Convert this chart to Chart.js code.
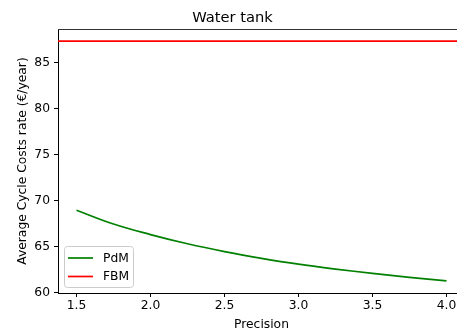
<!DOCTYPE html>
<html><head><meta charset="utf-8">
<script src="https://cdn.jsdelivr.net/npm/chart.js@4/dist/chart.umd.min.js"></script>
<style>html,body{margin:0;padding:0;overflow:hidden;background:#fff;width:457px;height:333px}
#wrap{width:466px;height:333px;position:relative}</style>
</head><body><div id="wrap"><canvas id="c" width="466" height="333"></canvas></div>
<script>
const precision = [1.5, 1.75, 2.0, 2.25, 2.5, 2.75, 3.0, 3.25, 3.5, 3.75, 4.0];
const pdmCost = [68.95, 67.45, 66.3, 65.3, 64.45, 63.72, 63.08, 62.55, 62.08, 61.65, 61.27];
const fbmCost = 87.35;            // horizontal reference line across the whole axis
const xLimits = [1.375, 4.125];
const yLimits = [59.945, 88.655];
const xTicks = [1.5, 2.0, 2.5, 3.0, 3.5, 4.0];
const yTicks = [60, 65, 70, 75, 80, 85];
const FONT = "'DejaVu Sans', sans-serif";
const FS = 12.3;

const frame = {
  id: 'frame',
  afterDraw(chart) {
    const {ctx, chartArea: a} = chart;
    ctx.save();
    ctx.strokeStyle = '#333';
    ctx.lineWidth = 1;
    ctx.beginPath();
    ctx.moveTo(a.left, Math.round(a.top) + 0.5);
    ctx.lineTo(a.right, Math.round(a.top) + 0.5);
    ctx.stroke();
    // legend
    const x = 64, y = 246, w = 69, h = 41, r = 3;
    ctx.fillStyle = 'rgba(255,255,255,0.8)';
    ctx.strokeStyle = '#cccccc';
    ctx.beginPath();
    ctx.roundRect(x + 0.5, y + 0.5, w, h, r);
    ctx.fill(); ctx.stroke();
    ctx.font = FS + 'px ' + FONT;
    ctx.textBaseline = 'middle';
    chart.data.datasets.forEach((ds, i) => {
      const yy = y + 12 + i * 18.5;
      ctx.strokeStyle = ds.borderColor;
      ctx.lineWidth = 1.7;
      ctx.beginPath(); ctx.moveTo(68, yy); ctx.lineTo(93, yy); ctx.stroke();
      ctx.fillStyle = '#000';
      ctx.fillText(ds.label, 103, yy + 0.5);
    });
    ctx.restore();
  }
};

new Chart(document.getElementById('c'), {
  type: 'line',
  data: {
    datasets: [
      {label: 'PdM', data: precision.map((p, i) => ({x: p, y: pdmCost[i]})), borderColor: '#008000', borderWidth: 1.7, pointRadius: 0, tension: 0.4, fill: false},
      {label: 'FBM', data: xLimits.map(p => ({x: p, y: fbmCost})), borderColor: '#ff0000', borderWidth: 1.7, pointRadius: 0, fill: false}
    ]
  },
  options: {
    responsive: false, animation: false,
    layout: {padding: {left: 0, right: 1, top: 0, bottom: 0}},
    plugins: {
      legend: {display: false}, tooltip: {enabled: false},
      title: {display: true, text: 'Water tank', color: '#000', font: {family: FONT, size: 14.7, weight: 'normal'}, padding: {top: 9, bottom: 2.4}}
    },
    scales: {
      x: {
        type: 'linear', min: xLimits[0], max: xLimits[1],
        afterBuildTicks: s => { s.ticks = xTicks.map(v => ({value: v})); },
        afterFit: s => { s.height = 40; },
        border: {display: true, color: '#000', width: 1},
        grid: {drawOnChartArea: false, drawTicks: true, tickLength: 4, color: '#000'},
        ticks: {color: '#000', font: {family: FONT, size: FS}, padding: 1, maxRotation: 0, callback: v => Number(v).toFixed(1)},
        title: {display: true, text: 'Precision', color: '#000', font: {family: FONT, size: FS}, padding: {top: 2, bottom: 1}}
      },
      y: {
        min: yLimits[0], max: yLimits[1],
        afterBuildTicks: s => { s.ticks = yTicks.map(v => ({value: v})); },
        afterFit: s => { s.width = 58; },
        border: {display: true, color: '#000', width: 1},
        grid: {drawOnChartArea: false, drawTicks: true, tickLength: 4, color: '#000'},
        ticks: {color: '#000', font: {family: FONT, size: FS}, padding: 4, callback: v => String(v)},
        title: {display: true, text: 'Average Cycle Costs rate (€/year)', color: '#000', font: {family: FONT, size: FS}, padding: {top: 15.5, bottom: 4}}
      }
    }
  },
  plugins: [frame]
});
</script></body></html>
